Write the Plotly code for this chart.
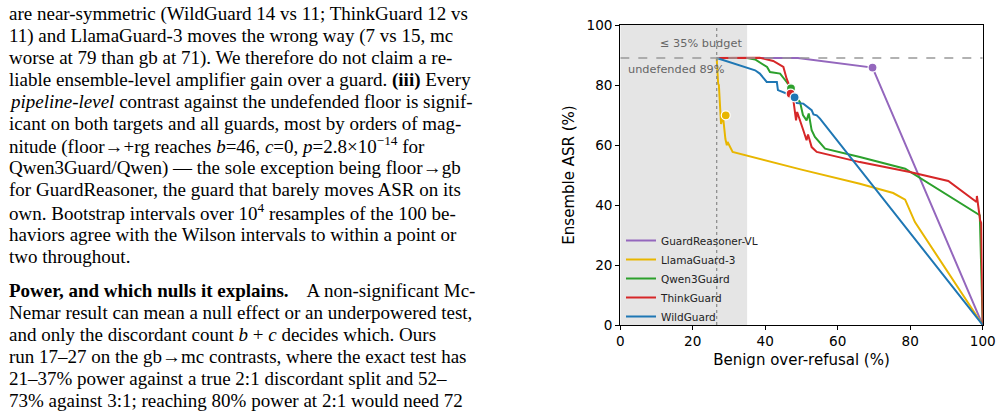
import plotly.graph_objects as go

# operating curves (benign over-refusal %, ensemble ASR %)
names = ["GuardReasoner-VL", "LlamaGuard-3", "Qwen3Guard", "ThinkGuard", "WildGuard"]
colors = ["#9467bd", "#e8b600", "#2ca02c", "#d62728", "#1f77b4"]

gr_x = [26.6, 40.0, 49.0, 69.6, 100.0]
gr_y = [89.0, 89.0, 89.0, 85.8, 0.0]

lg_x = [26.6, 26.8, 27.0, 27.2, 27.6, 27.8, 28.3, 28.9, 29.0, 29.4, 29.6, 31.0, 50.0, 66.1, 75.3, 78.6, 81.3, 100.0]
lg_y = [89.0, 84.0, 80.4, 80.0, 72.0, 67.0, 70.0, 63.2, 62.0, 59.9, 61.0, 57.7, 51.8, 47.1, 44.0, 41.8, 34.3, 0.0]

qw_x = [26.6, 35.0, 37.2, 39.5, 40.5, 41.3, 44.1, 45.9, 47.1, 48.5, 49.6, 50.4, 51.4, 52.0, 52.8, 53.7, 56.5, 66.1, 78.6, 99.2, 100.0]
qw_y = [89.0, 89.0, 88.5, 86.6, 86.0, 84.3, 83.8, 81.0, 78.9, 76.0, 74.3, 70.0, 68.2, 70.5, 64.9, 62.7, 58.8, 56.0, 52.1, 36.6, 0.0]

tg_x = [26.6, 38.5, 42.2, 45.0, 45.9, 46.6, 47.0, 47.7, 48.5, 48.8, 50.5, 51.4, 51.8, 52.8, 54.2, 66.1, 79.9, 90.5, 98.3, 98.4, 99.3, 99.6, 100.0]
tg_y = [89.0, 89.1, 88.0, 86.0, 82.1, 79.9, 77.1, 75.5, 68.2, 71.0, 64.9, 61.6, 63.5, 59.3, 57.7, 54.3, 51.0, 48.0, 41.0, 43.0, 34.9, 34.0, 0.0]

wg_x = [26.6, 37.2, 38.5, 40.4, 43.2, 43.5, 46.2, 48.1, 48.7, 50.5, 52.8, 53.3, 54.2, 55.1, 100.0]
wg_y = [89.0, 84.9, 83.8, 81.0, 81.0, 78.3, 77.0, 75.9, 74.0, 73.8, 71.6, 70.2, 69.9, 68.8, 0.0]

curves_x = [gr_x, lg_x, qw_x, tg_x, wg_x]
curves_y = [gr_y, lg_y, qw_y, tg_y, wg_y]

# chosen operating points (marked)
op_x = [69.6, 29.1, 47.1, 47.0, 48.1]
op_y = [85.8, 69.9, 78.9, 77.1, 75.9]

budget = 35
floor_x = 26.6
undefended = 89

text_lines = [
    "are near-symmetric (WildGuard 14 vs 11; ThinkGuard 12 vs",
    "11) and LlamaGuard-3 moves the wrong way (7 vs 15, mc",
    "worse at 79 than gb at 71). We therefore do not claim a re-",
    "liable ensemble-level amplifier gain over a guard. <b>(iii)</b> Every",
    "<i>pipeline-level</i> contrast against the undefended floor is signif-",
    "icant on both targets and all guards, most by orders of mag-",
    "nitude (floor→+rg reaches <i>b</i>=46, <i>c</i>=0, <i>p</i>=2.8×10<sup>−14</sup> for",
    "Qwen3Guard/Qwen) — the sole exception being floor→gb",
    "for GuardReasoner, the guard that barely moves ASR on its",
    "own. Bootstrap intervals over 10<sup>4</sup> resamples of the 100 be-",
    "haviors agree with the Wilson intervals to within a point or",
    "two throughout.",
]
text_lines2 = [
    "<b>Power, and which nulls it explains.</b>    A non-significant Mc-",
    "Nemar result can mean a null effect or an underpowered test,",
    "and only the discordant count <i>b</i> + <i>c</i> decides which. Ours",
    "run 17–27 on the gb→mc contrasts, where the exact test has",
    "21–37% power against a true 2:1 discordant split and 52–",
    "73% against 3:1; reaching 80% power at 2:1 would need 72",
]

W, H = 1002, 416
fig = go.Figure()

for n, c, xs, ys in zip(names, colors, curves_x, curves_y):
    fig.add_trace(go.Scatter(x=xs, y=ys, mode="lines", name=n,
                             line=dict(color=c, width=2)))
for n, c, x, y in zip(names, colors, op_x, op_y):
    fig.add_trace(go.Scatter(x=[x], y=[y], mode="markers", showlegend=False,
                             marker=dict(color=c, size=9, line=dict(color="white", width=1.2))))

fig.add_shape(type="rect", x0=0, x1=budget, y0=0, y1=100, fillcolor="#e5e5e5",
              line_width=0, layer="below")
fig.add_shape(type="line", x0=floor_x, x1=floor_x, y0=0, y1=100,
              line=dict(color="#888888", width=1.2, dash="dot"))
fig.add_shape(type="line", x0=0, x1=100, y0=undefended, y1=undefended,
              line=dict(color="#999999", width=1.3, dash="dash"))

fig.add_annotation(x=budget - 1, y=94, text="≤ 35% budget", showarrow=False,
                   xanchor="right", font=dict(family="DejaVu Sans", size=11.3, color="#666666"))
fig.add_annotation(x=1.5, y=85.3, text="undefended 89%", showarrow=False,
                   xanchor="left", font=dict(family="DejaVu Sans", size=11.3, color="#666666"))

# the paper text to the left of the figure
for i, t in enumerate(text_lines):
    fig.add_annotation(xref="paper", yref="paper", x=7 / W, y=1 - (13.5 + 22.05 * i) / H,
                       text=t, showarrow=False, xanchor="left", yanchor="middle",
                       font=dict(family="Liberation Serif", size=19, color="black"))
for i, t in enumerate(text_lines2):
    fig.add_annotation(xref="paper", yref="paper", x=7 / W, y=1 - (290 + 22 * i) / H,
                       text=t, showarrow=False, xanchor="left", yanchor="middle",
                       font=dict(family="Liberation Serif", size=19, color="black"))

axis_common = dict(range=[0, 100], tickvals=[0, 20, 40, 60, 80, 100], ticks="outside",
                   ticklen=4, tickwidth=1, tickcolor="black", showline=True, mirror=True,
                   linecolor="black", linewidth=1.2, showgrid=False, zeroline=False,
                   automargin=False,
                   tickfont=dict(family="DejaVu Sans", size=13.6, color="black"))

fig.update_layout(
    width=W, height=H,
    margin=dict(l=0, r=0, t=0, b=0, autoexpand=False),
    paper_bgcolor="white", plot_bgcolor="white",
    xaxis=dict(domain=[620.3 / W, 982.7 / W],
               title=dict(text="Benign over-refusal (%)", standoff=6,
                          font=dict(family="DejaVu Sans", size=15, color="black")),
               **axis_common),
    yaxis=dict(domain=[1 - 325 / H, 1 - 25 / H],
               title=dict(text="Ensemble ASR (%)", standoff=8,
                          font=dict(family="DejaVu Sans", size=15, color="black")),
               **axis_common),
    legend=dict(x=621 / W, y=1 - 226 / H, xanchor="left", yanchor="top",
                bgcolor="rgba(0,0,0,0)", itemwidth=30,
                font=dict(family="DejaVu Sans", size=10.5, color="#222222")),
    showlegend=True,
)

# drop the browser's default body margin so the figure sits at the page corner
fig.write_html("out.html", config={"displayModeBar": False},
               post_script="document.body.style.margin = '0';")
